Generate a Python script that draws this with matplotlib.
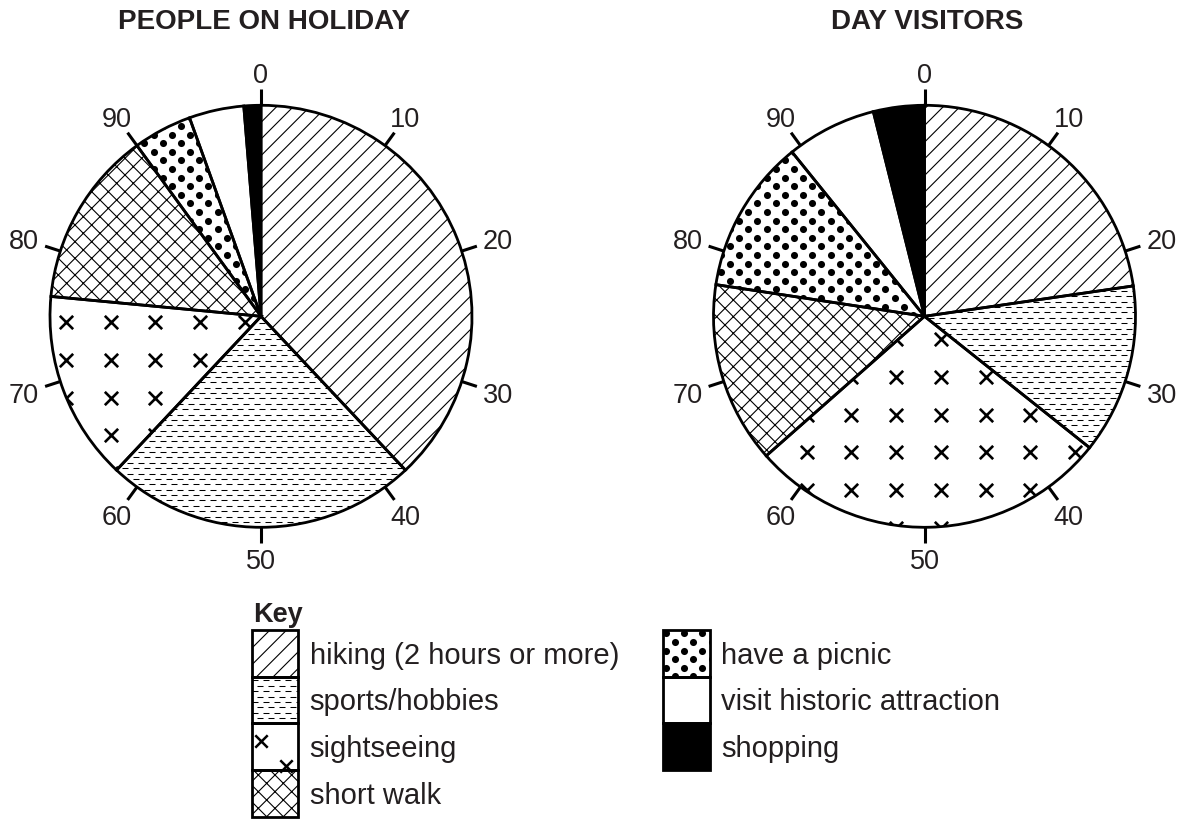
import numpy as np
import matplotlib.pyplot as plt
from matplotlib.collections import LineCollection
from matplotlib.patches import Rectangle

# ---- data (percent of visitors) ----
categories = ['hiking (2 hours or more)', 'sports/hobbies', 'sightseeing',
              'short walk', 'have a picnic', 'visit historic attraction',
              'shopping']
holiday = [38, 24, 14.5, 13.5, 4.5, 4.2, 1.3]
day_visitors = [22.7, 13, 27.8, 13.9, 11.8, 6.9, 3.9]
scale_marks = [0, 10, 20, 30, 40, 50, 60, 70, 80, 90]
titles = ['PEOPLE ON HOLIDAY', 'DAY VISITORS']

# ---- styles ----
W, H = 1184, 819
INK = '#231f20'
R = 211
fills = ['white', 'white', 'white', 'white', 'white', 'white', 'black']
hatches = ['//', '', '', 'xx', '', '', '']
textures = [None, 'dash', 'cross', None, 'dots', None, None]

plt.rcParams['font.family'] = ['Liberation Sans', 'DejaVu Sans']
plt.rcParams['hatch.linewidth'] = 0.8

fig = plt.figure(figsize=(W / 100, H / 100), dpi=100)
ax = fig.add_axes([0, 0, 1, 1])


def texture(kind, patch, box, origin=(0, 0)):
    # fill pattern drawn inside a patch (clipped to it)
    x0, y0, x1, y1 = box
    if kind == 'dash':
        segs = []
        for i, y in enumerate(np.arange(y0, y1, 5.37)):
            for x in np.arange(x0 - 11 + (i % 2) * 5.5, x1, 11):
                segs.append([(x, y), (x + 6, y)])
        art = LineCollection(segs, colors='black', linewidths=0.75, zorder=2)
        ax.add_collection(art)
    elif kind == 'dots':
        ox, oy = 775.7, H - 203.3
        rows = oy + 8.6 * np.arange(np.floor((y0 - oy) / 8.6), np.ceil((y1 - oy) / 8.6) + 1)
        xs, ys = [], []
        for y in rows:
            shift = 9.15 * (round((y - oy) / 8.6) % 2)
            for x in np.arange(ox + shift - 18.3 * np.ceil((ox - x0) / 18.3) - 18.3, x1 + 18.3, 18.3):
                xs.append(x)
                ys.append(y)
        art = ax.scatter(xs, ys, s=26, c='black', linewidths=0, zorder=2)
    else:
        ox, oy = origin
        gx = ox + 44.7 * np.arange(np.floor((x0 - ox) / 44.7), np.ceil((x1 - ox) / 44.7) + 1)
        gy = oy + 37.8 * np.arange(np.floor((y0 - oy) / 37.8), np.ceil((y1 - oy) / 37.8) + 1)
        mx, my = np.meshgrid(gx, gy)
        art = ax.scatter(mx.ravel(), my.ravel(), s=92, marker='x', c='black',
                         linewidths=1.9, zorder=2)
    art.set_clip_path(patch)


# ---- the two pies ----
pies = [(holiday, 261, (66, H - 322)), (day_visitors, 924.5, (806.7, H - 339))]
for title, (values, cx, cross_origin) in zip(titles, pies):
    cy = H - 316.3
    wedges, _ = ax.pie(values, colors=fills, hatch=hatches, startangle=90,
                       counterclock=False, center=(cx, cy), radius=R, frame=True,
                       wedgeprops=dict(edgecolor='black', linewidth=0))
    for w, kind in zip(wedges, textures):
        if kind:
            texture(kind, w, (cx - R, cy - R, cx + R, cy + R), cross_origin)
    ax.pie(values, startangle=90, counterclock=False, center=(cx, cy),
           radius=R, frame=True,
           wedgeprops=dict(fill=False, edgecolor='black', linewidth=2.0, zorder=4))

    # percentage scale round the edge
    for m in scale_marks:
        a = np.radians(90 - 3.6 * m)
        ux, uy = np.cos(a), np.sin(a)
        ax.plot([cx + R * ux, cx + (R + 16) * ux], [cy + R * uy, cy + (R + 16) * uy],
                color='black', lw=2.2, solid_capstyle='butt', zorder=4)
        hw, hh = 7.75 * len(str(m)), 10
        rl = 233 + min(hw / max(abs(ux), 1e-6), hh / max(abs(uy), 1e-6))
        ax.text(cx + rl * ux, cy + rl * uy - 2.7, str(m), ha='center', va='center',
                fontsize=19.5, color=INK)

    ax.text(cx + 3, H - 28.9, title, ha='center', va='baseline', fontsize=20,
            fontweight='bold', color=INK)

# ---- key ----
ax.text(253, H - 621.7, 'Key', ha='left', va='baseline', fontsize=19.5,
        fontweight='bold', color=INK)
box = 46.7
for i, (label, fc, ht, kind) in enumerate(zip(categories, fills, hatches, textures)):
    col, row = (0, i) if i < 4 else (1, i - 4)
    bx = 251.7 if col == 0 else 662.9
    top = 630 + box * row
    by = H - top - box
    sw = Rectangle((bx, by), box, box, facecolor=fc, hatch=ht, edgecolor='black',
                   linewidth=0, zorder=1)
    ax.add_patch(sw)
    if kind == 'cross':
        ax.scatter([bx + 9, bx + 34.6], [by + box - 17.4, by + box - 42.7], s=80,
                   marker='x', c='black', linewidths=1.8, zorder=2)
    elif kind:
        texture(kind, sw, (bx, by, bx + box, by + box))
    ax.add_patch(Rectangle((bx, by), box, box, fill=False, edgecolor='black',
                           linewidth=2.0, zorder=4))
    ax.text(bx + 58, H - top - 33.5, label, ha='left', va='baseline',
            fontsize=21, color=INK)

ax.set_xlim(0, W)
ax.set_ylim(0, H)
ax.axis('off')

plt.savefig('out.png', dpi=100)
